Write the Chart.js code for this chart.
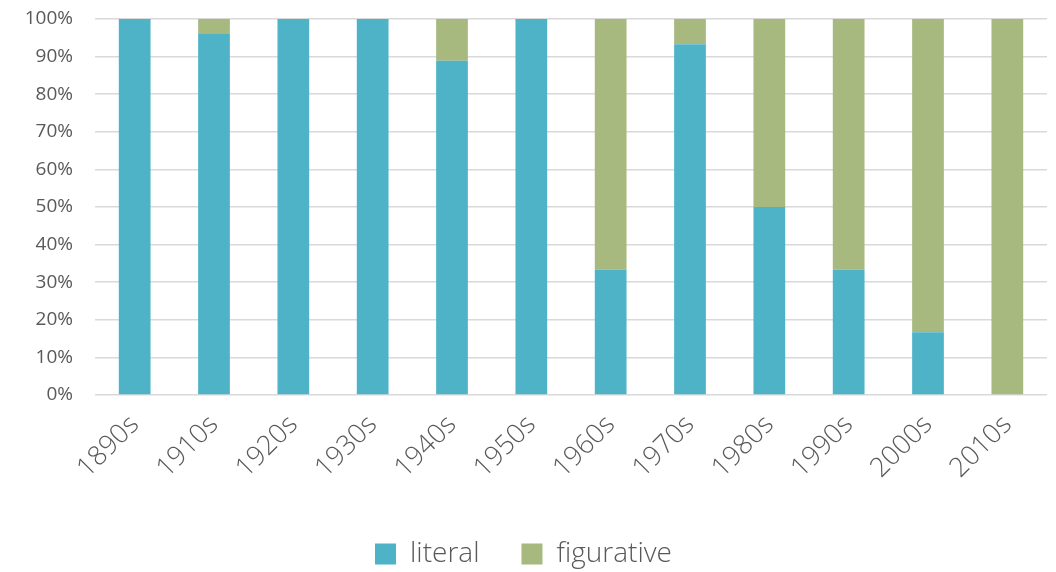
<!DOCTYPE html>
<html>
<head>
<meta charset="utf-8">
<script src="https://cdn.jsdelivr.net/npm/chart.js@4"></script>
<style>
  html, body { margin: 0; padding: 0; background: #fff; }
  #wrap { width: 1056px; height: 572px; }
</style>
</head>
<body>
<div id="wrap"><canvas id="chart" width="1056" height="572"></canvas></div>
<script>
// decades on the x axis
const decades = ['1890s', '1910s', '1920s', '1930s', '1940s', '1950s', '1960s', '1970s', '1980s', '1990s', '2000s', '2010s'];
// share of uses per decade, in percent
const literal = [100, 96, 100, 100, 88.9, 100, 33.3, 93.3, 50, 33.3, 16.7, 0];
const figurative = [0, 4, 0, 0, 11.1, 0, 66.7, 6.7, 50, 66.7, 83.3, 100];
const yTicks = [0, 10, 20, 30, 40, 50, 60, 70, 80, 90, 100];

const textColor = '#595959';
const fontFamily = '"Open Sans", "Segoe UI", sans-serif';

// the legend needs a wide gap between items, but label padding also adds height,
// so clamp the legend box height after it has measured itself
const legendHeight = {
  id: 'legendHeight',
  beforeLayout(chart) {
    const lg = chart.legend;
    if (lg && !lg._clamped) {
      const fit = lg.fit.bind(lg);
      lg.fit = function() { fit(); this.height = 74; };
      lg._clamped = true;
    }
  }
};

new Chart(document.getElementById('chart'), {
  type: 'bar',
  data: {
    labels: decades,
    datasets: [
      { label: 'literal', data: literal, backgroundColor: '#4fb3c8' },
      { label: 'figurative', data: figurative, backgroundColor: '#a7b97f' }
    ]
  },
  options: {
    responsive: false,
    animation: false,
    layout: { padding: { top: 19, right: 9, left: 0, bottom: 0 } },
    datasets: { bar: { categoryPercentage: 1, barPercentage: 0.4 } },
    scales: {
      x: {
        stacked: true,
        grid: { display: false },
        border: { display: false },
        ticks: {
          color: textColor,
          font: { family: fontFamily, size: 27, weight: 300 },
          minRotation: 45, maxRotation: 45, padding: 6
        },
        afterFit: (axis) => { axis.height = 103; axis.paddingLeft = 0; axis.paddingRight = 0; }
      },
      y: {
        stacked: true,
        min: 0, max: 100,
        afterBuildTicks: (axis) => { axis.ticks = yTicks.map(v => ({ value: v })); },
        grid: { color: '#d9d9d9', lineWidth: 1.5, drawTicks: false },
        border: { display: false },
        ticks: {
          color: textColor,
          font: { family: fontFamily, size: 19 },
          padding: 22,
          callback: (v) => v + '%'
        },
        afterFit: (axis) => { axis.width = 95; axis.paddingTop = 0; axis.paddingBottom = 0; }
      }
    },
    plugins: {
      legend: {
        position: 'bottom',
        labels: {
          color: textColor,
          font: { family: fontFamily, size: 28, weight: 300 },
          boxWidth: 21, boxHeight: 21, padding: 42
        }
      },
      tooltip: { enabled: false }
    }
  },
  plugins: [legendHeight]
});
</script>
</body>
</html>
